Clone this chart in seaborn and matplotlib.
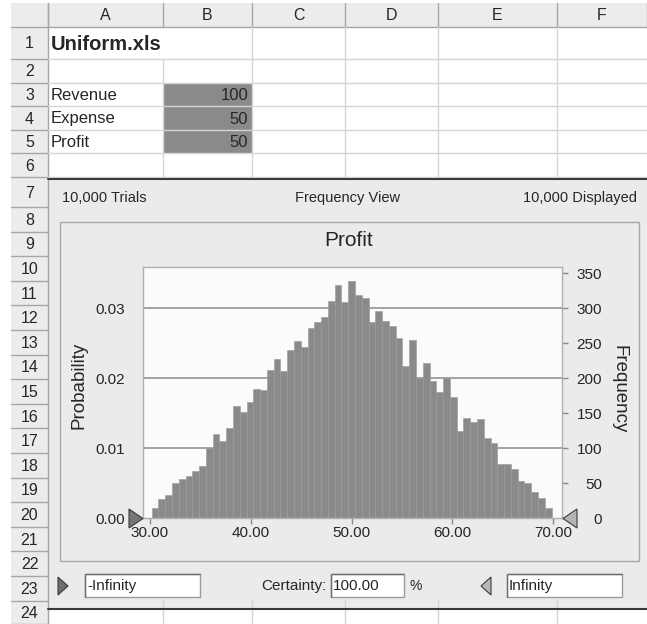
import numpy as np
import pandas as pd
import matplotlib
matplotlib.use("Agg")
import matplotlib.pyplot as plt
import seaborn as sns
from matplotlib.patches import Rectangle, Polygon

# === Data ===
trials = 10000
profit_lo, profit_hi = 30.17, 69.84
frequency = [15, 27, 33, 51, 56, 60, 68, 75, 100, 121,
             111, 129, 161, 152, 166, 185, 183, 212, 227, 210,
             241, 253, 245, 272, 280, 288, 311, 334, 309, 339,
             319, 315, 280, 296, 282, 275, 257, 218, 255, 201,
             222, 196, 181, 201, 174, 125, 144, 138, 142, 115,
             107, 78, 78, 71, 53, 51, 37, 29, 15]
x_ticks = [30, 40, 50, 60, 70]
freq_ticks = [0, 50, 100, 150, 200, 250, 300, 350]
prob_ticks = [0.00, 0.01, 0.02, 0.03]

col_letters = ["A", "B", "C", "D", "E", "F"]
cell_labels = ["Revenue", "Expense", "Profit"]
cell_values = [100, 50, 50]
sheet_title = "Uniform.xls"
chart_title = "Profit"
certainty = 100.00

# === Layout (pixels) ===
W, H = 647, 624
col_edges = [48, 163, 252, 345, 438, 557, 647]
row_edges = [3, 27, 59, 82.6, 106.2, 129.8, 153.4, 177, 207] + [207 + 24.6 * k for k in range(1, 18)]
plot_box = (142.7, 267.3, 562.3, 518.3)  # left, top, right, bottom

sns.set_style("white")
plt.rcParams["font.family"] = ["Liberation Sans", "DejaVu Sans"]

fig = plt.figure(figsize=(W / 100, H / 100), dpi=100)
fig.patch.set_facecolor("white")

# --- background: the spreadsheet ---
bg = fig.add_axes([0, 0, 1, 1], zorder=0)
bg.set_xlim(0, W)
bg.set_ylim(H, 0)
bg.axis("off")

head_c = "#ececec"
line_c = "#a6a6a6"
grid_c = "#d6d6d6"

# column header
bg.add_patch(Rectangle((11, 3), W - 11, 24, fc=head_c, ec="none"))
for x in col_edges:
    bg.plot([x, x], [3, 27], color=line_c, lw=1)
bg.plot([11, W], [27, 27], color=line_c, lw=1)
for i, letter in enumerate(col_letters):
    bg.text((col_edges[i] + col_edges[i + 1]) / 2, 15, letter, ha="center", va="center", fontsize=11.5)

# row header
bg.add_patch(Rectangle((11, 27), 37, H - 27, fc=head_c, ec="none"))
bg.plot([48, 48], [3, H], color=line_c, lw=1)
for i in range(24):
    y0, y1 = row_edges[i + 1], min(row_edges[i + 2], H)
    bg.plot([11, 48], [y1, y1], color=line_c, lw=1)
    bg.text(29.5, (y0 + y1) / 2 + 1, str(i + 1), ha="center", va="center", fontsize=11.5)

# cell gridlines for rows 1-6 and row 24
for i in range(1, 7):
    bg.plot([48, W], [row_edges[i + 1], row_edges[i + 1]], color=grid_c, lw=1)
for x in col_edges[1:-1]:
    top_y = row_edges[1] if x > 163 else row_edges[2]
    bg.plot([x, x], [top_y, row_edges[7]], color=grid_c, lw=1)
    bg.plot([x, x], [600, H], color=grid_c, lw=1)

# B3:B5 shaded cells
bg.add_patch(Rectangle((163, row_edges[3]), 89, row_edges[6] - row_edges[3], fc="#8a8a8a", ec="none"))
bg.text(51, (row_edges[1] + row_edges[2]) / 2 + 1, sheet_title, ha="left", va="center",
        fontsize=14.5, fontweight="bold")
for i, (lab, val) in enumerate(zip(cell_labels, cell_values)):
    yc = (row_edges[3 + i] + row_edges[4 + i]) / 2 + 1
    bg.text(51, yc, lab, ha="left", va="center", fontsize=12)
    bg.text(248, yc, str(val), ha="right", va="center", fontsize=12)

# chart panel
bg.add_patch(Rectangle((48.5, 178), W - 48.5, 431, fc="#ebebeb", ec="none"))
bg.plot([48, W], [178.5, 178.5], color="#3a3a3a", lw=1.5)
bg.plot([48, W], [609, 609], color="#3a3a3a", lw=1.5)
bg.add_patch(Rectangle((59.5, 222), 579.5, 339, fc="none", ec="#a8a8a8", lw=1))

bg.text(62, 198, f"{trials:,} Trials", ha="left", va="center", fontsize=10.5)
bg.text(348, 198, "Frequency View", ha="center", va="center", fontsize=10.5)
bg.text(637, 198, f"{trials:,} Displayed", ha="right", va="center", fontsize=10.5)
bg.text(349, 241, chart_title, ha="center", va="center", fontsize=15)
bg.text(79, 385, "Probability", rotation=90, ha="center", va="center", fontsize=13.5)
bg.text(619, 389, "Frequency", rotation=270, ha="center", va="center", fontsize=13.5)

# certainty row
for x0, w, txt in [(85, 115, "-Infinity"), (331, 73, f"{certainty:.2f}"), (507, 115, "Infinity")]:
    bg.add_patch(Rectangle((x0, 574), w, 23, fc="white", ec="#9a9a9a", lw=1))
    bg.plot([x0, x0, x0 + w], [597, 574, 574], color="#707070", lw=1)
    bg.text(x0 + 2, 586, txt, ha="left", va="center", fontsize=11)
bg.text(327, 586, "Certainty:", ha="right", va="center", fontsize=11)
bg.text(410, 586, "%", ha="left", va="center", fontsize=10)
bg.add_patch(Polygon([(58, 577), (58, 595), (68, 586)], fc="#6e6e6e", ec="#3c3c3c", lw=0.8))
bg.add_patch(Polygon([(491, 577), (491, 595), (481, 586)], fc="#b8b8b8", ec="#3c3c3c", lw=0.8))

# --- histogram ---
l, t, r, b = plot_box
ax = fig.add_axes([l / W, 1 - b / H, (r - l) / W, (b - t) / H], zorder=1)
ax.set_facecolor("#fbfbfb")

bin_w = (profit_hi - profit_lo) / len(frequency)
centers = profit_lo + bin_w * (np.arange(len(frequency)) + 0.5)
df = pd.DataFrame({"profit": centers, "frequency": frequency})
sns.histplot(data=df, x="profit", weights="frequency", bins=len(frequency),
             binrange=(profit_lo, profit_hi), ax=ax,
             color="#8a8a8a", edgecolor="#999999", linewidth=0.4, alpha=1)

for p in prob_ticks[1:]:
    ax.axhline(p * trials, color="#9c9c9c", lw=1.3, zorder=0.5)

ax.set_xlim(29.28, 70.91)
ax.set_ylim(0, 358.6)
ax.set_xlabel("")
ax.set_ylabel("")
ax.set_xticks(x_ticks)
ax.set_xticklabels([f"{v:.2f}" for v in x_ticks])
ax.yaxis.tick_right()
ax.set_yticks(freq_ticks)
ax.tick_params(axis="x", direction="out", length=4, width=1, color="#8a8a8a",
               labelsize=11, pad=1.5, bottom=True)
ax.tick_params(axis="y", direction="out", length=4, width=1, color="#8a8a8a",
               labelsize=11, pad=24.5, right=True, left=False)
for lab in ax.get_yticklabels():
    lab.set_ha("right")
for s in ax.spines.values():
    s.set_color("#b0b0b0")
    s.set_linewidth(1)

sec = ax.secondary_yaxis("left", functions=(lambda f: f / trials, lambda pr: pr * trials))
sec.set_yticks(prob_ticks)
sec.set_yticklabels([f"{p:.2f}" for p in prob_ticks])
sec.tick_params(length=0, labelsize=11, pad=13)
sec.spines["left"].set_visible(False)

# --- certainty grabbers on top ---
top = fig.add_axes([0, 0, 1, 1], zorder=2)
top.set_xlim(0, W)
top.set_ylim(H, 0)
top.axis("off")
top.patch.set_alpha(0)
top.add_patch(Polygon([(129, 509), (129, 528), (143, 518.5)], fc="#767676", ec="#3c3c3c", lw=0.8))
top.add_patch(Polygon([(577, 509), (577, 528), (563, 518.5)], fc="#b4b4b4", ec="#3c3c3c", lw=0.8))

fig.savefig("out.png", dpi=100)
